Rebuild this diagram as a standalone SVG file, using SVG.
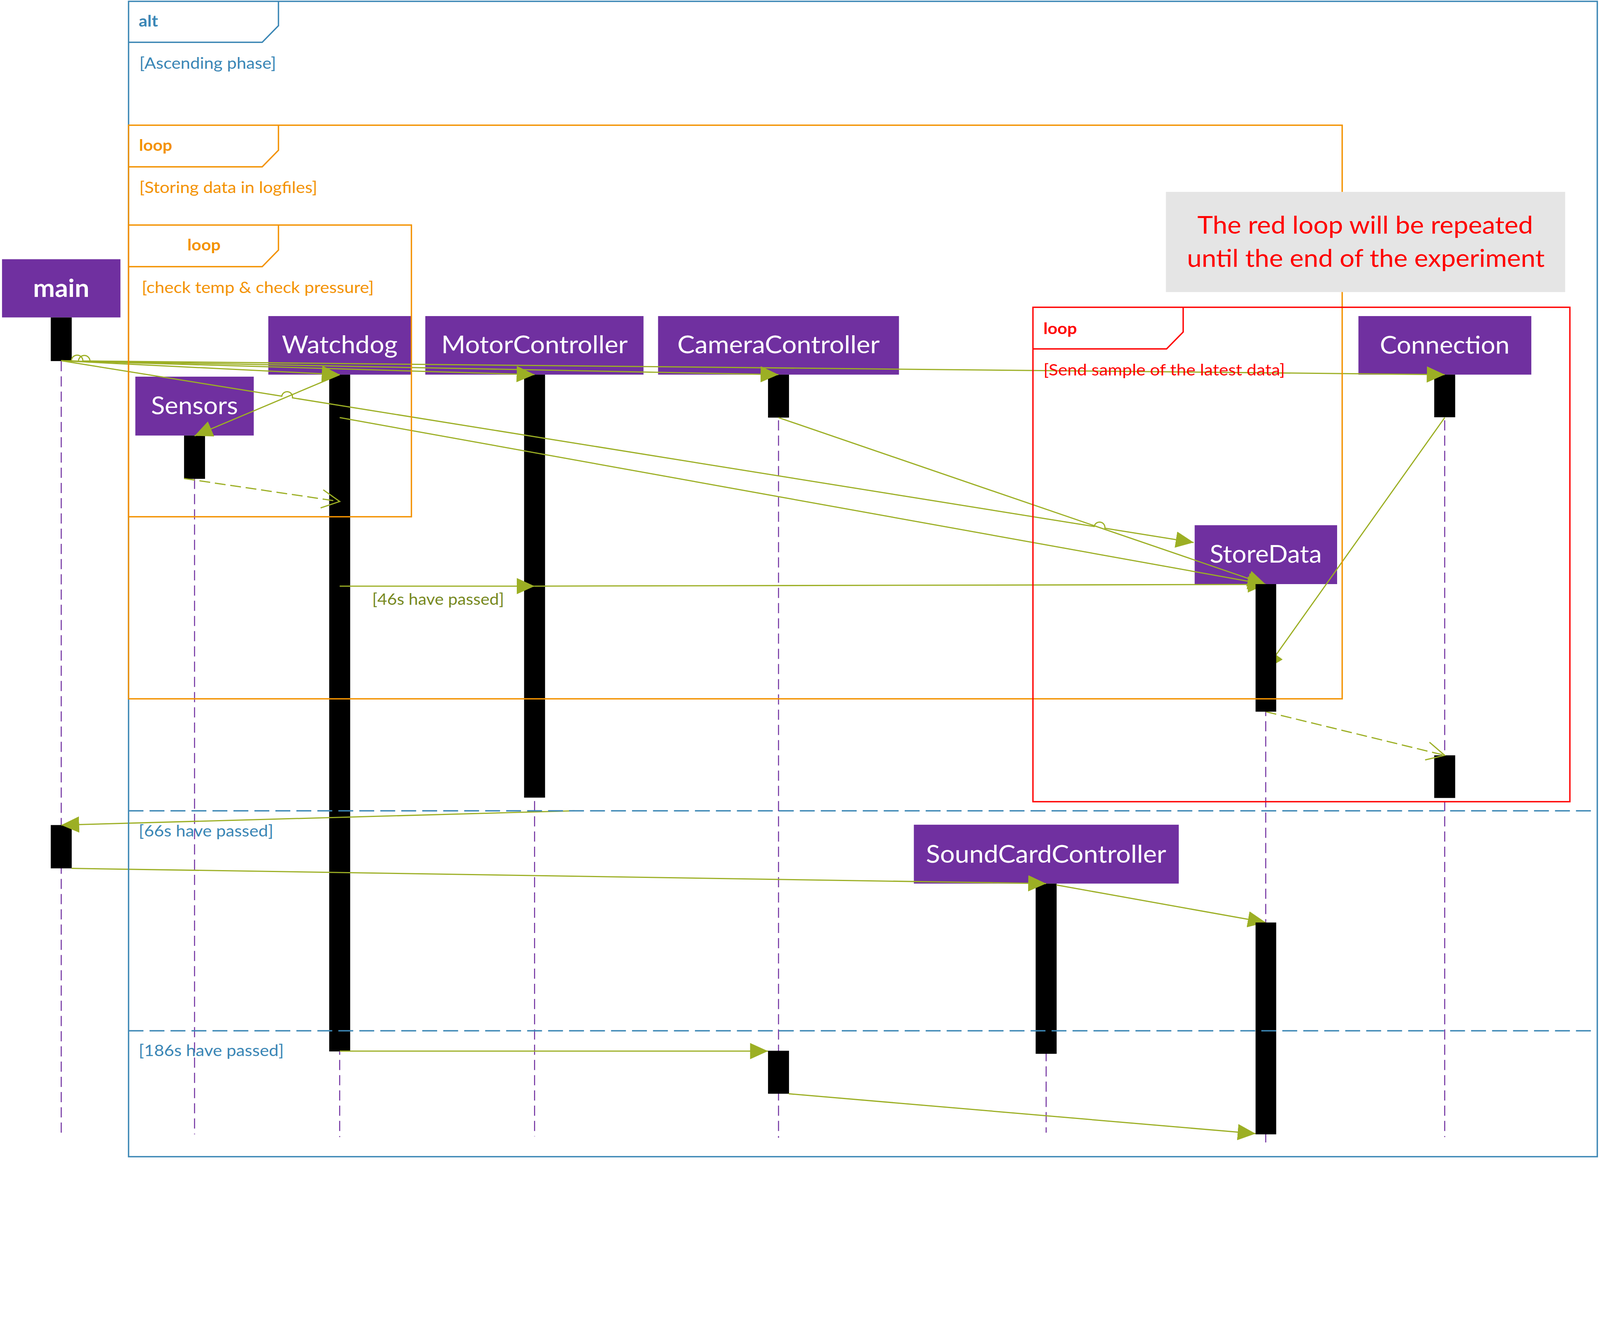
<svg xmlns="http://www.w3.org/2000/svg" width="4729" height="3422" viewBox="0 0 4729 3422" preserveAspectRatio="xMidYMin meet" style="max-width:100vw;max-height:100vh">
<defs>
<style>
.bg{fill:#fff}
.box{fill:#7030A0}
.name{font-family:Lato,'Liberation Sans',sans-serif;font-size:72px;fill:#fff;text-anchor:middle}
.life{stroke:#7030A0;stroke-width:3;stroke-dasharray:30 15;fill:none}
.bar{fill:#000}
.msg{stroke:#9CAF24;stroke-width:3.5;fill:none;marker-end:url(#arrow)}
.ret{stroke:#9CAF24;stroke-width:3.5;fill:none;stroke-dasharray:32 14;marker-end:url(#open)}
.frame{fill:none;stroke-width:4}
.blue{stroke:#3C87B5}
.orange{stroke:#F39200}
.red{stroke:#FF0000}
.div{stroke:#3C87B5;stroke-width:4;stroke-dasharray:44 18;fill:none}
.lbl{font-family:Lato,'Liberation Sans',sans-serif;font-size:46px}
.kw{font-family:Lato,'Liberation Sans',sans-serif;font-size:46px;font-weight:bold}
.tb{fill:#3A86B5}
.to{fill:#F39200}
.tr{fill:#FF0000}
.tg{fill:#77891F}
.note{fill:#E5E5E5}
.notetxt{font-family:Lato,'Liberation Sans',sans-serif;font-size:72px;fill:#FF0000;text-anchor:middle}
</style>
<marker id="arrow" markerUnits="userSpaceOnUse" markerWidth="53" markerHeight="48" refX="53" refY="24" orient="auto" viewBox="0 0 53 48"><path d="M0,0 L53,24 L0,48 Z" fill="#9CAF24"/></marker>
<marker id="open" markerUnits="userSpaceOnUse" markerWidth="60" markerHeight="60" refX="55" refY="28" orient="auto" viewBox="0 0 60 60" overflow="visible"><path d="M2,1 L55,28 L2,55" fill="none" stroke="#9CAF24" stroke-width="3.5"/></marker>
</defs>
<rect class="bg" x="0" y="0" width="4729" height="3422"/>

<g id="main">
<rect class="box" x="6" y="766" width="350" height="172"/>
<text class="name" x="181" y="877" font-weight="bold" textLength="166" lengthAdjust="spacingAndGlyphs">main</text>
<line class="life" x1="181" y1="1067" x2="181" y2="3362"/>
<rect class="bar" x="150" y="938" width="62" height="129"/>
<rect class="bar" x="150" y="2438" width="62" height="128"/>
</g>

<g id="Sensors">
<rect class="box" x="400" y="1113" width="350" height="174"/>
<text class="name" x="575" y="1224" textLength="257" lengthAdjust="spacingAndGlyphs">Sensors</text>
<line class="life" x1="575" y1="1415" x2="575" y2="3352"/>
<rect class="bar" x="544" y="1287" width="62" height="128"/>
</g>

<g id="Watchdog">
<rect class="box" x="793" y="934" width="422" height="173"/>
<text class="name" x="1004" y="1044" textLength="342" lengthAdjust="spacingAndGlyphs">Watchdog</text>
<line class="life" x1="1004" y1="1107" x2="1004" y2="3360"/>
<rect class="bar" x="973" y="1107" width="62" height="2000"/>
</g>

<g id="MotorController">
<rect class="box" x="1257" y="934" width="645" height="173"/>
<text class="name" x="1580" y="1044" textLength="551" lengthAdjust="spacingAndGlyphs">MotorController</text>
<line class="life" x1="1580" y1="1107" x2="1580" y2="3358"/>
<rect class="bar" x="1549" y="1107" width="62" height="1250"/>
</g>

<g id="CameraController">
<rect class="box" x="1945" y="934" width="712" height="173"/>
<text class="name" x="2301" y="1044" textLength="598" lengthAdjust="spacingAndGlyphs">CameraController</text>
<line class="life" x1="2301" y1="1107" x2="2301" y2="3362"/>
<rect class="bar" x="2270" y="1107" width="62" height="127"/>
<rect class="bar" x="2270" y="3105" width="62" height="127"/>
</g>

<g id="Connection">
<rect class="box" x="4015" y="934" width="511" height="173"/>
<text class="name" x="4270" y="1045" textLength="383" lengthAdjust="spacingAndGlyphs">Connection</text>
<line class="life" x1="4270" y1="1107" x2="4270" y2="3360"/>
<rect class="bar" x="4239" y="1107" width="62" height="126"/>
<rect class="bar" x="4239" y="2232" width="62" height="126"/>
</g>

<g id="SoundCardController">
<rect class="box" x="2701" y="2437" width="783" height="174"/>
<text class="name" x="3092" y="2549" textLength="710" lengthAdjust="spacingAndGlyphs">SoundCardController</text>
<line class="life" x1="3092" y1="2611" x2="3092" y2="3347"/>
<rect class="bar" x="3061" y="2611" width="62" height="503"/>
</g>

<g id="StoreData">
<rect class="box" x="3531" y="1552" width="421" height="174"/>
<text class="name" x="3741" y="1663" textLength="331" lengthAdjust="spacingAndGlyphs">StoreData</text>
<line class="life" x1="3741" y1="1726" x2="3741" y2="3377"/>
</g>

<g id="connectors">
<path id="c1" class="msg" d="M181,1066 L1004,1107"/>
<path id="c2" class="msg" d="M181,1066 L1580,1107"/>
<path id="c3" class="msg" d="M181,1066 L232,1067 A17,17 0 0 1 266,1067.6 L2301,1107"/>
<path id="c4" class="msg" d="M181,1066 L211,1066.3 A17,17 0 0 1 245,1066.6 L4270,1107"/>
<path id="c5" class="msg" d="M181,1066 L832.9,1170.6 A16,16 0 0 1 864.5,1175.6 L3234.1,1555.9 A16,16 0 0 1 3265.7,1560.9 L3528,1603"/>
<path id="c6" class="msg" d="M1004,1107 L575,1288"/>
<path id="c7" class="ret" d="M544,1414 L1004,1482"/>
<path id="c8" class="msg" d="M1004,1234 L3741,1727"/>
<path id="c9" class="msg" d="M2301,1234 L3741,1727"/>
<path id="c10" class="msg" d="M1004,1732 L1580,1732"/>
<path id="c11" class="msg" d="M1580,1732 L3741,1727"/>
<path id="c12" class="msg" d="M4270,1234 L3741,1978"/>
<path id="c13" class="ret" d="M3741,2103 L4270,2232"/>
<path id="c14" class="msg" d="M1698,2396 L181,2438"/>
<path id="c15" class="msg" d="M211,2566 L3092,2611"/>
<path id="c16" class="msg" d="M3122,2615 L3741,2726"/>
<path id="c17" class="msg" d="M1004,3106 L2270,3106"/>
<path id="c18" class="msg" d="M2331,3232 L3711,3350"/>
<text class="lbl tg" x="1100" y="1787" textLength="390" lengthAdjust="spacingAndGlyphs">[46s have passed]</text>
</g>

<g id="StoreData-activations">
<rect class="bar" x="3711" y="1726" width="61" height="377"/>
<rect class="bar" x="3711" y="2726" width="61" height="626"/>
</g>

<g id="frame-alt">
<rect class="frame blue" x="380" y="4" width="4341" height="3414"/>
<path class="frame blue" d="M823,4 L823,76 L775,125 L380,125"/>
<text class="kw tb" x="410" y="79" textLength="57" lengthAdjust="spacingAndGlyphs">alt</text>
<text class="lbl tb" x="412" y="203" textLength="404" lengthAdjust="spacingAndGlyphs">[Ascending phase]</text>
<line class="div" x1="380" y1="2396" x2="4721" y2="2396"/>
<text class="lbl tb" x="410" y="2472" textLength="398" lengthAdjust="spacingAndGlyphs">[66s have passed]</text>
<line class="div" x1="380" y1="3046" x2="4721" y2="3046"/>
<text class="lbl tb" x="410" y="3121" textLength="429" lengthAdjust="spacingAndGlyphs">[186s have passed]</text>
</g>

<g id="frame-loop-logfiles">
<rect class="frame orange" x="380" y="370" width="3587" height="1695"/>
<path class="frame orange" d="M823,370 L823,444 L775,493 L380,493"/>
<text class="kw to" x="411" y="446" textLength="98" lengthAdjust="spacingAndGlyphs">loop</text>
<text class="lbl to" x="412" y="570" textLength="526" lengthAdjust="spacingAndGlyphs">[Storing data in logfiles]</text>
</g>

<g id="frame-loop-check">
<rect class="frame orange" x="380" y="665" width="836" height="862"/>
<path class="frame orange" d="M823,665 L823,739 L775,788 L380,788"/>
<text class="kw to" x="554" y="740" textLength="98" lengthAdjust="spacingAndGlyphs">loop</text>
<text class="lbl to" x="419" y="866" textLength="686" lengthAdjust="spacingAndGlyphs">[check temp &amp; check pressure]</text>
</g>

<g id="frame-loop-send">
<rect class="frame red" x="3053" y="908" width="1587" height="1461"/>
<path class="frame red" d="M3497,908 L3497,981 L3448,1031 L3053,1031"/>
<text class="kw tr" x="3084" y="987" textLength="99" lengthAdjust="spacingAndGlyphs">loop</text>
<text class="lbl tr" x="3084" y="1109" textLength="714" lengthAdjust="spacingAndGlyphs">[Send sample of the latest data]</text>
</g>

<g id="note">
<rect class="note" x="3446" y="567" width="1180" height="296"/>
<text class="notetxt" x="4035" y="690" textLength="992" lengthAdjust="spacingAndGlyphs">The red loop will be repeated</text>
<text class="notetxt" x="4037" y="788" textLength="1057" lengthAdjust="spacingAndGlyphs">until the end of the experiment</text>
</g>
</svg>
